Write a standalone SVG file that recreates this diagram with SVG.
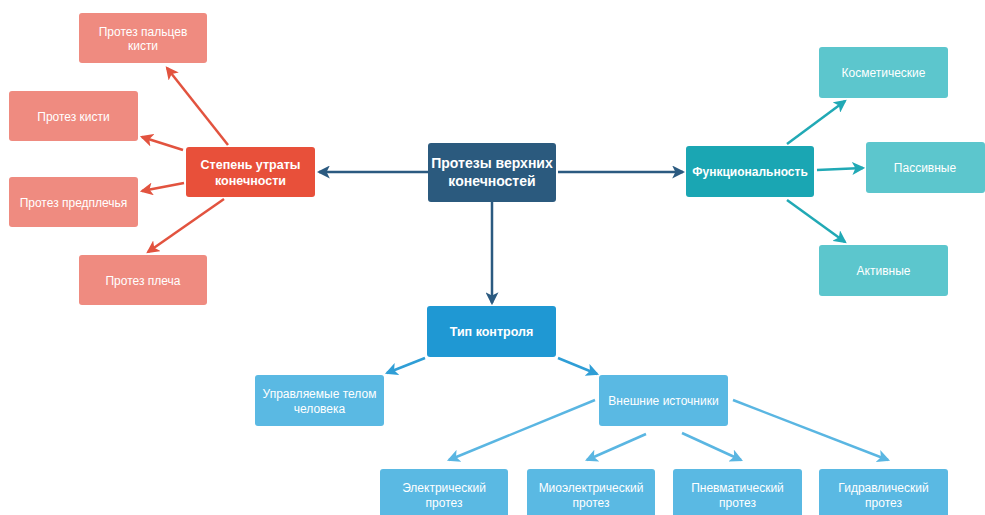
<svg xmlns="http://www.w3.org/2000/svg" width="985" height="515" viewBox="0 0 985 515">
<defs>
<style>
.t{font-family:"Liberation Sans",Arial,sans-serif;fill:#fff;text-anchor:middle}
.b{font-weight:bold;font-size:12.5px}
.r{font-size:12px}
.c{fill:none;stroke-width:2.5}
</style>
<marker id="mr" viewBox="0 0 12 12" refX="10" refY="6" markerWidth="13" markerHeight="13" markerUnits="userSpaceOnUse" orient="auto"><path d="M0,0 L12,6 L0,12 L3,6 z" fill="#e2533f"/></marker>
<marker id="md" viewBox="0 0 12 12" refX="10" refY="6" markerWidth="13" markerHeight="13" markerUnits="userSpaceOnUse" orient="auto"><path d="M0,0 L12,6 L0,12 L3,6 z" fill="#2b5a80"/></marker>
<marker id="mt" viewBox="0 0 12 12" refX="10" refY="6" markerWidth="13" markerHeight="13" markerUnits="userSpaceOnUse" orient="auto"><path d="M0,0 L12,6 L0,12 L3,6 z" fill="#21a9b5"/></marker>
<marker id="mb" viewBox="0 0 12 12" refX="10" refY="6" markerWidth="13" markerHeight="13" markerUnits="userSpaceOnUse" orient="auto"><path d="M0,0 L12,6 L0,12 L3,6 z" fill="#2f9ed6"/></marker>
<marker id="ml" viewBox="0 0 12 12" refX="10" refY="6" markerWidth="13" markerHeight="13" markerUnits="userSpaceOnUse" orient="auto"><path d="M0,0 L12,6 L0,12 L3,6 z" fill="#5ab6e2"/></marker>
</defs>
<rect width="985" height="515" fill="#fff"/>
<g id="connectors">
<line class="c" x1="428" y1="172" x2="319" y2="172" stroke="#2b5a80" marker-end="url(#md)"/>
<line class="c" x1="558" y1="172" x2="683" y2="172" stroke="#2b5a80" marker-end="url(#md)"/>
<line class="c" x1="492" y1="202" x2="492" y2="303" stroke="#2b5a80" marker-end="url(#md)"/>
<line class="c" x1="228" y1="145" x2="167" y2="68" stroke="#e2533f" marker-end="url(#mr)"/>
<line class="c" x1="183" y1="150" x2="142" y2="137" stroke="#e2533f" marker-end="url(#mr)"/>
<line class="c" x1="184" y1="183" x2="142" y2="191" stroke="#e2533f" marker-end="url(#mr)"/>
<line class="c" x1="224" y1="199" x2="148" y2="252" stroke="#e2533f" marker-end="url(#mr)"/>
<line class="c" x1="787" y1="144" x2="845" y2="101" stroke="#21a9b5" marker-end="url(#mt)"/>
<line class="c" x1="817" y1="170" x2="863" y2="168" stroke="#21a9b5" marker-end="url(#mt)"/>
<line class="c" x1="787" y1="200" x2="845" y2="242" stroke="#21a9b5" marker-end="url(#mt)"/>
<line class="c" x1="425" y1="358" x2="387" y2="373" stroke="#2f9ed6" marker-end="url(#mb)"/>
<line class="c" x1="558" y1="358" x2="597" y2="374" stroke="#2f9ed6" marker-end="url(#mb)"/>
<line class="c" x1="595" y1="400" x2="449" y2="460" stroke="#5ab6e2" marker-end="url(#ml)"/>
<line class="c" x1="646" y1="434" x2="587" y2="460" stroke="#5ab6e2" marker-end="url(#ml)"/>
<line class="c" x1="682" y1="433" x2="741" y2="460" stroke="#5ab6e2" marker-end="url(#ml)"/>
<line class="c" x1="733" y1="400" x2="888" y2="460" stroke="#5ab6e2" marker-end="url(#ml)"/>
</g>
<g id="n-center"><rect x="428" y="143" width="128" height="59" rx="3" fill="#2b5a7e"/><text class="t b" x="492" y="168" style="font-size:14px">Протезы верхних</text><text class="t b" x="492" y="186" style="font-size:14px">конечностей</text></g>
<g id="n-stepen"><rect x="186" y="147" width="129" height="50" rx="3" fill="#e8503a"/><text class="t b" x="250.5" y="169">Степень утраты</text><text class="t b" x="250.5" y="185">конечности</text></g>
<g id="n-palcev"><rect x="79" y="13" width="128" height="50" rx="3" fill="#ef8b80"/><text class="t r" x="143" y="36">Протез пальцев</text><text class="t r" x="143" y="50">кисти</text></g>
<g id="n-kisti"><rect x="9" y="91" width="129" height="50" rx="3" fill="#ef8b80"/><text class="t r" x="73.5" y="121">Протез кисти</text></g>
<g id="n-predpl"><rect x="9" y="177" width="129" height="50" rx="3" fill="#ef8b80"/><text class="t r" x="73.5" y="207">Протез предплечья</text></g>
<g id="n-plecha"><rect x="79" y="255" width="128" height="50" rx="3" fill="#ef8b80"/><text class="t r" x="143" y="285">Протез плеча</text></g>
<g id="n-func"><rect x="686" y="146" width="128" height="51" rx="3" fill="#1aa6b3"/><text class="t b" x="750" y="176" style="font-size:12px">Функциональность</text></g>
<g id="n-kosm"><rect x="819" y="47" width="129" height="51" rx="3" fill="#5cc6cd"/><text class="t r" x="883.5" y="77">Косметические</text></g>
<g id="n-pass"><rect x="866" y="142" width="119" height="51" rx="3" fill="#5cc6cd"/><text class="t r" x="925" y="172">Пассивные</text></g>
<g id="n-akt"><rect x="819" y="245" width="129" height="51" rx="3" fill="#5cc6cd"/><text class="t r" x="883.5" y="275">Активные</text></g>
<g id="n-tip"><rect x="427" y="306" width="129" height="51" rx="3" fill="#1f98d3"/><text class="t b" x="491.5" y="336">Тип контроля</text></g>
<g id="n-upr"><rect x="255" y="375" width="129" height="51" rx="3" fill="#5ab9e3"/><text class="t r" x="319.5" y="398">Управляемые телом</text><text class="t r" x="319.5" y="413">человека</text></g>
<g id="n-vnesh"><rect x="599" y="375" width="129" height="51" rx="3" fill="#5ab9e3"/><text class="t r" x="663.5" y="405">Внешние источники</text></g>
<g id="n-el"><rect x="380" y="469" width="128" height="52" rx="3" fill="#5ab9e3"/><text class="t r" x="444" y="492">Электрический</text><text class="t r" x="444" y="507">протез</text></g>
<g id="n-mio"><rect x="527" y="469" width="128" height="52" rx="3" fill="#5ab9e3"/><text class="t r" x="591" y="492">Миоэлектрический</text><text class="t r" x="591" y="507">протез</text></g>
<g id="n-pnev"><rect x="673" y="469" width="129" height="52" rx="3" fill="#5ab9e3"/><text class="t r" x="737.5" y="492">Пневматический</text><text class="t r" x="737.5" y="507">протез</text></g>
<g id="n-gidr"><rect x="819" y="469" width="129" height="52" rx="3" fill="#5ab9e3"/><text class="t r" x="883.5" y="492">Гидравлический</text><text class="t r" x="883.5" y="507">протез</text></g>
</svg>
